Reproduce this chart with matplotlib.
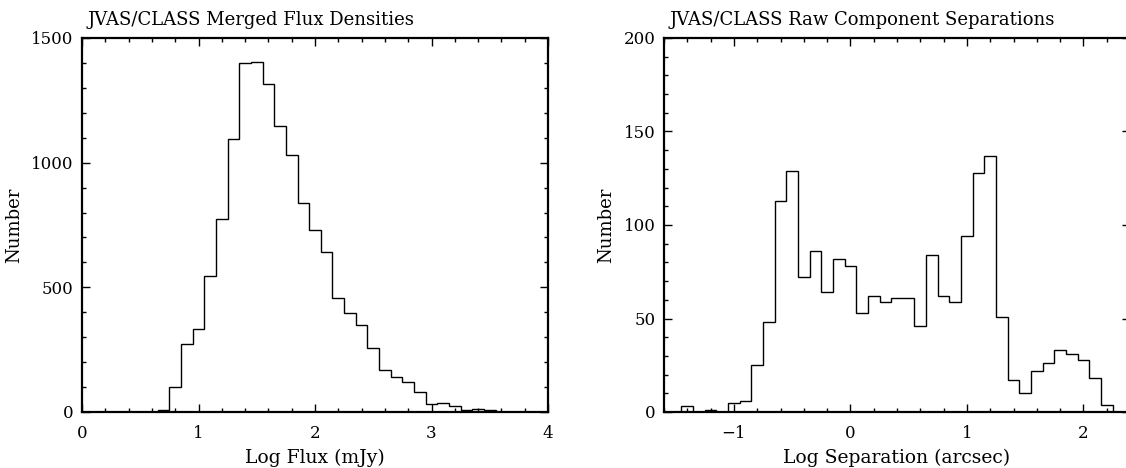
"""Two PGPLOT-style step histograms: JVAS/CLASS flux densities and separations."""
import numpy as np
import matplotlib
matplotlib.use("Agg")
import matplotlib.pyplot as plt
from matplotlib.ticker import MultipleLocator

# ---- left panel: log flux (mJy), bins of 0.1 starting at 0.65 ----
flux_start = 0.65
flux_width = 0.1
flux_counts = [7, 100, 272, 333, 544, 776, 1096, 1398, 1402, 1316,
               1149, 1032, 839, 728, 641, 456, 396, 347, 256, 167,
               139, 120, 79, 32, 36, 23, 9, 13, 7, 0, 2]

# ---- right panel: log separation (arcsec), bins of 0.1 starting at -1.45 ----
sep_start = -1.45
sep_width = 0.1
sep_counts = [3, 0, 1, 0, 5, 6, 25, 48, 113, 129,
              72, 86, 64, 82, 78, 53, 62, 59, 61, 61,
              46, 84, 62, 59, 94, 128, 137, 51, 17, 10,
              22, 26, 33, 31, 28, 18, 4]

plt.rcParams["font.family"] = ["DejaVu Serif"]
plt.rcParams["font.size"] = 12


def draw_panel(ax, start, width, counts, xlim, ylim, xmajor, ymajor, yminor,
               title, xlabel):
    counts = np.asarray(counts, dtype=float)
    edges = start + width * np.arange(len(counts) + 1)
    ax.stairs(counts, edges, baseline=0, color="black", lw=1.0)
    ax.set_xlim(*xlim)
    ax.set_ylim(*ylim)
    ax.xaxis.set_major_locator(MultipleLocator(xmajor))
    ax.xaxis.set_minor_locator(MultipleLocator(0.2))
    ax.yaxis.set_major_locator(MultipleLocator(ymajor))
    ax.yaxis.set_minor_locator(MultipleLocator(yminor))
    ax.tick_params(which="both", direction="in", top=True, right=True,
                   width=1.0, colors="black")
    ax.tick_params(which="major", length=6)
    ax.tick_params(which="minor", length=3)
    ax.tick_params(axis="x", pad=9)
    ax.tick_params(axis="y", pad=6)
    for sp in ax.spines.values():
        sp.set_linewidth(1.6)
    # PGPLOT-like title: left-aligned just inside the frame
    ax.text(0.012, 1.035, title, transform=ax.transAxes, ha="left",
            va="baseline", fontsize=13)
    ax.set_xlabel(xlabel, labelpad=5, fontsize=13.5)
    ax.set_ylabel("Number", labelpad=6, fontsize=13)


fig = plt.figure(figsize=(11.26, 4.68), dpi=100)
ax1 = fig.add_axes([82 / 1126, 56 / 468, 466 / 1126, 374 / 468])
ax2 = fig.add_axes([664 / 1126, 56 / 468, 466 / 1126, 374 / 468])

draw_panel(ax1, flux_start, flux_width, flux_counts, (0, 4), (0, 1500),
           1, 500, 100, "JVAS/CLASS Merged Flux Densities", "Log Flux (mJy)")
draw_panel(ax2, sep_start, sep_width, sep_counts, (-1.6, 2.4), (0, 200),
           1, 50, 10, "JVAS/CLASS Raw Component Separations",
           "Log Separation (arcsec)")

fig.savefig("out.png", dpi=100)
